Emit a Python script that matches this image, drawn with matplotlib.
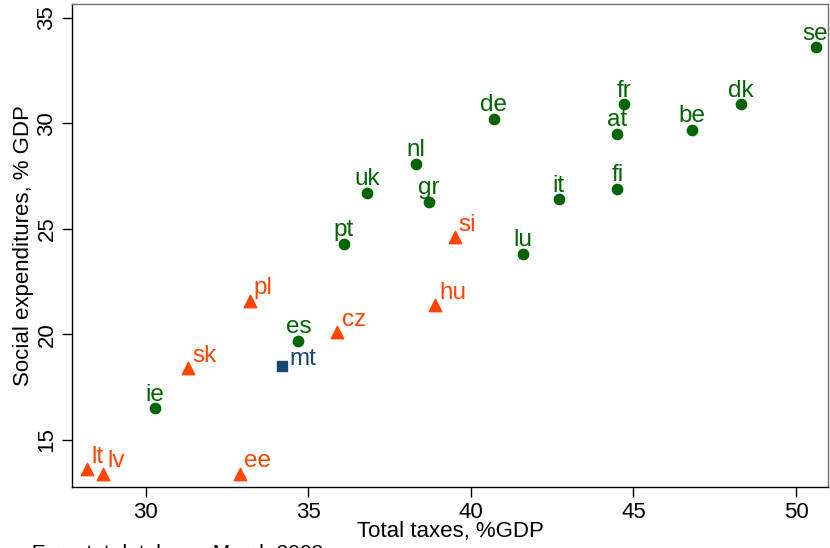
import matplotlib

matplotlib.use("Agg")
import matplotlib.pyplot as plt

plt.rcParams["font.family"] = ["Liberation Sans", "DejaVu Sans"]

# old member states (green circles)
old_codes = ["se", "dk", "fr", "be", "at", "de", "nl", "uk", "gr", "it", "fi", "lu", "pt", "es", "ie"]
old_tax = [50.6, 48.3, 44.7, 46.8, 44.5, 40.7, 38.3, 36.8, 38.7, 42.7, 44.5, 41.6, 36.1, 34.7, 30.3]
old_soc = [33.6, 30.9, 30.9, 29.7, 29.5, 30.2, 28.1, 26.7, 26.3, 26.4, 26.9, 23.8, 24.3, 19.7, 16.5]

# new member states (orange triangles)
new_codes = ["si", "hu", "pl", "cz", "sk", "lt", "lv", "ee"]
new_tax = [39.5, 38.9, 33.2, 35.9, 31.3, 28.2, 28.7, 32.9]
new_soc = [24.6, 21.4, 21.6, 20.1, 18.4, 13.6, 13.4, 13.4]

# malta
mt_tax = [34.2]
mt_soc = [18.5]

GREEN = "#006400"
ORANGE = "#ff4500"
NAVY = "#1a476f"
FS = 16
LFS = 17.5

fig = plt.figure(figsize=(8.3, 5.48), dpi=100)
ax = fig.add_axes([72 / 830, 1 - 487 / 548, (828 - 72) / 830, (487 - 4) / 548])

ax.scatter(old_tax, old_soc, s=55, color=GREEN, marker="o", zorder=3)
ax.scatter(new_tax, new_soc, s=80, color=ORANGE, marker="^", zorder=3)
ax.scatter(mt_tax, mt_soc, s=60, color=NAVY, marker="s", zorder=3)

for code, x, y in zip(old_codes, old_tax, old_soc):
    ax.annotate(code, (x, y), xytext=(0, 2), textcoords="offset points",
                ha="center", va="bottom", fontsize=LFS, color=GREEN)
for code, x, y in zip(new_codes, new_tax, new_soc):
    ax.annotate(code, (x, y), xytext=(3, 1), textcoords="offset points",
                ha="left", va="bottom", fontsize=LFS, color=ORANGE)
ax.annotate("mt", (mt_tax[0], mt_soc[0]), xytext=(5, -3), textcoords="offset points",
            ha="left", va="bottom", fontsize=LFS, color=NAVY)

ax.set_xlim(27.74, 50.98)
ax.set_ylim(12.77, 35.66)
ax.set_xticks([30, 35, 40, 45, 50])
ax.set_yticks([15, 20, 25, 30, 35])
ax.tick_params(labelsize=FS, length=7, width=1, direction="out")
for lab in ax.get_yticklabels():
    lab.set_rotation(90)
    lab.set_va("center")

for side in ["top", "right"]:
    ax.spines[side].set_color("#707070")
    ax.spines[side].set_linewidth(1.0)
for side in ["left", "bottom"]:
    ax.spines[side].set_color("black")
    ax.spines[side].set_linewidth(1.0)

ax.set_xlabel("Total taxes, %GDP", fontsize=FS, labelpad=-1)
ax.set_ylabel("Social expenditures, % GDP", fontsize=FS, labelpad=2)

fig.text(-0.055, 0.008, "Source: Eurostat database, March 2008", fontsize=FS - 1, va="top", ha="left")

fig.savefig("out.png", dpi=100)
plt.close(fig)
